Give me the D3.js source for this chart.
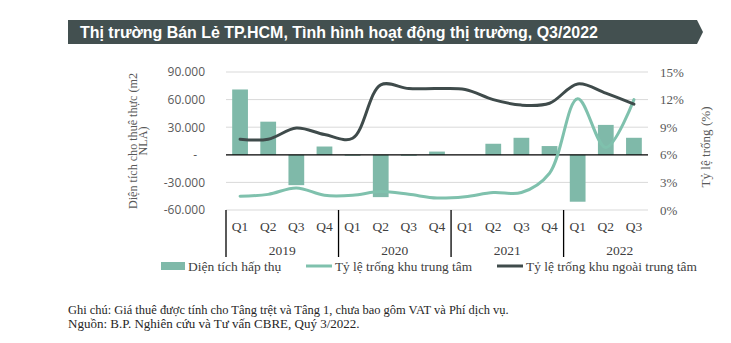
<!DOCTYPE html>
<html><head><meta charset="utf-8">
<script src="https://cdn.jsdelivr.net/npm/d3@7"></script>
<style>
body{margin:0;background:#fff;}
svg{display:block;}
</style></head>
<body>
<svg id="chart" width="731" height="343"></svg>
<script>
// ---- data ----
const quarters = ["Q1","Q2","Q3","Q4","Q1","Q2","Q3","Q4","Q1","Q2","Q3","Q4","Q1","Q2","Q3"];
const years = ["2019","2020","2021","2022"];
const absorption = [71000, 36000, -33000, 9000, -1000, -46000, -1000, 3500, 0, 12000, 18500, 9500, -51000, 32500, 18500];
const vacancyCBD = [1.5, 1.7, 2.4, 1.6, 1.6, 2.0, 1.7, 1.3, 1.45, 1.9, 1.9, 4.0, 12.1, 6.8, 12.0];
const vacancyNonCBD = [7.7, 7.7, 8.9, 8.2, 7.8, 13.6, 13.2, 13.2, 13.1, 12.0, 11.4, 11.6, 13.7, 12.7, 11.5];
const leftTicks = [-60000, -30000, 0, 30000, 60000, 90000];
const rightTicks = [0, 3, 6, 9, 12, 15];
const titleText = "Thị trường Bán Lẻ TP.HCM, Tình hình hoạt động thị trường, Q3/2022";
const legendLabels = ["Diện tích hấp thụ", "Tỷ lệ trống khu trung tâm", "Tỷ lệ trống khu ngoài trung tâm"];
const yTitleLeft = ["Diện tích cho thuê thực (m2", "NLA)"];
const yTitleRight = "Tỷ lệ trống (%)";
const notes = ["Ghi chú: Giá thuê được tính cho Tâng trệt và Tâng 1, chưa bao gôm VAT và Phí dịch vụ.",
               "Nguồn: B.P. Nghiên cứu và Tư vấn CBRE, Quý 3/2022."];

// ---- style ----
const barColor = "#7fb9a9";
const cbdColor = "#7fc1ad";
const nonCbdColor = "#3f4b4b";
const bannerColor = "#435050";
const serif = "'Liberation Serif','Times New Roman',serif";
const sans = "'Open Sans','Noto Sans',sans-serif";

const svg = d3.select("#chart");
const X0 = 226, X1 = 648, Ytop = 72, Ybot = 210;

function fit(sel, w){
  const n = sel.node(); const cur = n.getComputedTextLength();
  const fs = parseFloat(sel.attr("font-size"));
  sel.attr("font-size", (fs*w/cur).toFixed(2));
  return fs*w/cur;
}

// title banner
svg.append("path")
  .attr("d", `M68,20 L697,20 L703,32 L697,44 L68,44 Z`)
  .attr("fill", bannerColor);
const tt = svg.append("text").attr("x", 80).attr("y", 37.5)
  .attr("font-family", "'Liberation Sans',Arial,sans-serif").attr("font-weight", "bold")
  .attr("font-size", 15).attr("fill", "#fff").text(titleText);
fit(tt, 518);

// scales
const x = d3.scaleBand().domain(d3.range(quarters.length)).range([X0, X1])
  .paddingInner(0.44).paddingOuter(0.22);
const yL = d3.scaleLinear().domain([-60000, 90000]).range([Ybot, Ytop]);
const yR = d3.scaleLinear().domain([0, 15]).range([Ybot, Ytop]);
const cx = i => x(i) + x.bandwidth()/2;

// gridlines
svg.append("g").selectAll("line").data(leftTicks.filter(d => d !== 0)).join("line")
  .attr("x1", X0).attr("x2", X1)
  .attr("y1", d => yL(d)).attr("y2", d => yL(d))
  .attr("stroke", "#d9d9d9").attr("stroke-width", 1);

// left axis
const loc = d3.formatLocale({decimal: ",", thousands: ".", grouping: [3], currency: ["", ""], minus: "-"});
const fmt = loc.format(",d");
const gL = svg.append("g").attr("transform", `translate(${X0},0)`)
  .call(d3.axisLeft(yL).tickValues(leftTicks).tickSize(0).tickPadding(21)
    .tickFormat(d => d === 0 ? "-" : fmt(d)));
gL.select(".domain").remove();
gL.selectAll("text").attr("font-family", sans).attr("font-size", 12).attr("fill", "#595959")
  .attr("dx", d => d === 0 ? -8 : 0);

// right axis
const gR = svg.append("g").attr("transform", `translate(${X1},0)`)
  .call(d3.axisRight(yR).tickValues(rightTicks).tickSize(0).tickPadding(12)
    .tickFormat(d => d + "%"));
gR.select(".domain").remove();
gR.selectAll("text").attr("font-family", serif).attr("font-size", 13).attr("fill", "#595959");

// bars
svg.append("g").selectAll("rect").data(absorption).join("rect")
  .attr("x", (d, i) => x(i)).attr("width", x.bandwidth())
  .attr("y", d => yL(Math.max(0, d))).attr("height", d => Math.abs(yL(d) - yL(0)))
  .attr("fill", barColor);

// zero line
svg.append("line").attr("x1", X0).attr("x2", X1).attr("y1", yL(0)).attr("y2", yL(0))
  .attr("stroke", "#000").attr("stroke-width", 1.3);

// lines
const line = d3.line().x((d, i) => cx(i)).y(d => yR(d)).curve(d3.curveCatmullRom.alpha(0.5));
svg.append("path").datum(vacancyCBD).attr("d", line)
  .attr("fill", "none").attr("stroke", cbdColor).attr("stroke-width", 3).attr("stroke-linecap", "round");
svg.append("path").datum(vacancyNonCBD).attr("d", line)
  .attr("fill", "none").attr("stroke", nonCbdColor).attr("stroke-width", 3).attr("stroke-linecap", "round");

// x axis: quarter labels
svg.append("g").selectAll("text").data(quarters).join("text")
  .attr("x", (d, i) => cx(i)).attr("y", 230.5).attr("text-anchor", "middle")
  .attr("font-family", serif).attr("font-size", 13.5).attr("fill", "#404040").text(d => d);
// year separators & labels
const step = x.step();
const groupStart = k => X0 + k * 4 * step;
svg.append("g").selectAll("line").data(years).join("line")
  .attr("x1", (d, k) => groupStart(k)).attr("x2", (d, k) => groupStart(k))
  .attr("y1", Ybot).attr("y2", 257).attr("stroke", "#000").attr("stroke-width", 1.3);
svg.append("g").selectAll("text").data(years).join("text")
  .attr("x", (d, k) => groupStart(k) + 2 * step).attr("y", 254.5).attr("text-anchor", "middle")
  .attr("font-family", serif).attr("font-size", 13.5).attr("fill", "#404040").text(d => d);

// legend
const lg = svg.append("g");
lg.append("rect").attr("x", 161).attr("y", 262).attr("width", 24).attr("height", 8).attr("fill", barColor);
lg.append("line").attr("x1", 306).attr("x2", 332).attr("y1", 266).attr("y2", 266)
  .attr("stroke", cbdColor).attr("stroke-width", 3);
lg.append("line").attr("x1", 497).attr("x2", 523).attr("y1", 266).attr("y2", 266)
  .attr("stroke", nonCbdColor).attr("stroke-width", 3);
const lgX = [188, 335, 526], lgW = [null, 137, 171];
legendLabels.forEach((t, i) => {
  const s = lg.append("text").attr("x", lgX[i]).attr("y", 270.5)
    .attr("font-family", serif).attr("font-size", 13.5).attr("fill", "#404040").text(t);
  if (lgW[i]) fit(s, lgW[i]);
});

// axis titles
const tl = svg.append("text").attr("transform", "translate(136.5,141) rotate(-90)")
  .attr("text-anchor", "middle").attr("font-family", serif).attr("font-size", 14).attr("fill", "#595959");
const t1 = tl.append("tspan").attr("x", 0).attr("y", 0).text(yTitleLeft[0]);
const fsL = 14 * 136 / t1.node().getComputedTextLength();
tl.attr("font-size", fsL.toFixed(2));
tl.append("tspan").attr("x", 0).attr("y", 10.5).text(yTitleLeft[1]);
const tr = svg.append("text").attr("transform", "translate(710,147) rotate(-90)")
  .attr("text-anchor", "middle").attr("font-family", serif).attr("font-size", 14).attr("fill", "#595959")
  .text(yTitleRight);
fit(tr, 81);

// notes
notes.forEach((t, i) => {
  const s = svg.append("text").attr("x", 68).attr("y", 314 + i * 14)
    .attr("font-family", serif).attr("font-size", 13).attr("fill", "#262626").text(t);
  if (i === 0) fit(s, 441);
});
</script>
</body></html>
